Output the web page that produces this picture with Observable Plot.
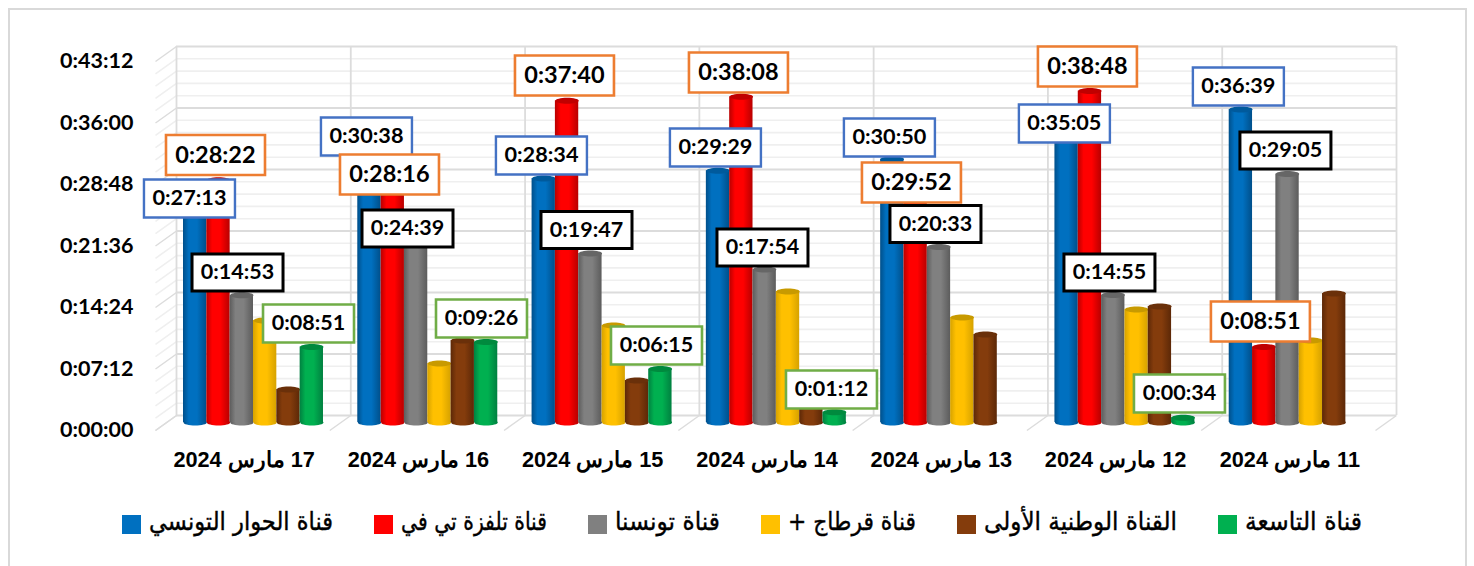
<!DOCTYPE html>
<html lang="ar">
<head>
<meta charset="utf-8">
<script src="https://cdn.jsdelivr.net/npm/d3@7"></script>
<script src="https://cdn.jsdelivr.net/npm/@observablehq/plot@0.6"></script>
<style>
html,body{margin:0;padding:0;background:#fff;overflow:hidden;width:1474px;height:566px}
#frame{position:absolute;left:8px;top:8px;width:1455px;height:570px;border:2px solid #d9d9d9;box-sizing:content-box}
#chart{position:absolute;left:0;top:0}
#chart svg{background:transparent;font-family:Lato,"DejaVu Sans",sans-serif}
#chart g[aria-label="x-axis tick label"] text{direction:rtl}
#legend{position:absolute;left:122px;top:515px;display:flex;gap:41px;align-items:center;font-family:"DejaVu Sans",serif;font-size:22px;color:#000;white-space:nowrap;-webkit-text-stroke:.35px #000}
#legend .it{display:flex;align-items:center;gap:8px}
#legend i{display:inline-block;width:19px;height:19px;flex:none}
#legend .tx{display:block;flex:none;height:19px;position:relative}
#legend .tx span{position:absolute;left:0;top:-6px;display:inline-block;transform-origin:left center}
</style>
</head>
<body>
<div id="frame"></div>
<div id="chart"></div>
<div id="legend"></div>
<script>
const dates = ["17 مارس 2024","16 مارس 2024","15 مارس 2024","14 مارس 2024","13 مارس 2024","12 مارس 2024","11 مارس 2024"];
const channels = ["قناة الحوار التونسي","قناة تلفزة تي في","قناة تونسنا","قناة قرطاج +","القناة الوطنية الأولى","قناة التاسعة"];
const colors = ["#0070C0","#FF0000","#808080","#FFC000","#843C0C","#00B050"];
const edges  = ["#004f8a","#b80000","#5c5c5c","#d6a200","#5c2807","#008040"];
const tops   = ["#005a9c","#c00000","#666666","#c89a00","#6a300a","#008a3e"];
const legendTextWidths = [184,146,105,128,193,117];

const blue   = ["0:27:13","0:30:38","0:28:34","0:29:29","0:30:50","0:35:05","0:36:39"];
const red    = ["0:28:22","0:28:16","0:37:40","0:38:08","0:29:52","0:38:48","0:08:51"];
const gray   = ["0:14:53","0:24:39","0:19:47","0:17:54","0:20:33","0:14:55","0:29:05"];
const yellow = ["0:11:56","0:06:54","0:11:21","0:15:20","0:12:17","0:13:14","0:09:36"];
const brown  = ["0:03:52","0:09:36","0:04:55","0:03:00","0:10:18","0:13:35","0:15:06"];
const green  = ["0:08:51","0:09:26","0:06:15","0:01:12",null,"0:00:34",null];
const series = [blue,red,gray,yellow,brown,green];

const yTicks = [0,432,864,1296,1728,2160,2592];
const minorStep = 86.4;

// which series carry a value label, and the label style of each
const labelled = [
  {c:0, stroke:"#4472C4", sw:2.4, w:91, h:38, fs:21.7},
  {c:1, stroke:"#ED7D31", sw:2.6, w:99, h:40, fs:23.5},
  {c:2, stroke:"#000000", sw:3,   w:91, h:37, fs:21.5},
  {c:5, stroke:"#70AD47", sw:2.6, w:91, h:38, fs:21.5}
];
// hand-placed label offsets from the top of each bar (pixels), per date
const labelDx = {
  0:[-5.7,-3,-2.3,-2.6,-2.9,-2.2,-2.5],
  1:[-3,-3.3,-2.6,-2.9,-4.2,-2.5,-3.8],
  2:[-4.3,-8.6,-3.9,-2.2,-3.5,-3.8,-2.1],
  5:[-3.3,-4.6,-3.9,-3.2,0,-3.8,0]
};
const labelDy = {
  0:[8.5,-24.3,-23,-23.2,-21.6,0.7,-23],
  1:[-25.2,-6.6,-25.3,-24.3,15.1,-24.6,-25.4],
  2:[-22.9,16.5,-23.5,-22.1,-23,-22.6,-23.6],
  5:[-23.4,-23.4,-23.6,-22.8,0,-24.2,0]
};

const secs = s => { const [h,m,x] = s.split(":").map(Number); return h*3600+m*60+x; };
const fmt = t => `${Math.floor(t/3600)}:${String(Math.floor(t%3600/60)).padStart(2,"0")}:${String(t%60).padStart(2,"0")}`;

const W = 1474, H = 505, ML = 155, MR = 99, MT = 61, MB = H-430;
const groupPx = (W-ML-MR)/dates.length;
const pxX = 1/groupPx, pxY = 2592/(H-MT-MB);
const barW = 23.33*pxX, barStart = 28*pxX;
const depthX = 21*pxX, depthY = 15*pxY;

const rows = series.flatMap((vals,c)=>vals.map((v,g)=>v==null?null:{g,c,label:v,v:secs(v),x1:g+barStart+c*barW,x2:g+barStart+(c+1)*barW}).filter(Boolean));

const boxSymbol = (w,h)=>({draw(p){p.moveTo(-w/2,-h/2);p.lineTo(w/2,-h/2);p.lineTo(w/2,h/2);p.lineTo(-w/2,h/2);p.closePath();}});
const ellipse = (rx,ry)=>({draw(p){const k=0.5523;p.moveTo(-rx,0);p.bezierCurveTo(-rx,-ry*k,-rx*k,-ry,0,-ry);p.bezierCurveTo(rx*k,-ry,rx,-ry*k,rx,0);p.bezierCurveTo(rx,ry*k,rx*k,ry,0,ry);p.bezierCurveTo(-rx*k,ry,-rx,ry*k,-rx,0);p.closePath();}});

const defs = () => {
  const d = d3.create("svg:defs");
  colors.forEach((col,i)=>{
    const g = d.append("linearGradient").attr("id","cyl"+i).attr("x1",0).attr("x2",1).attr("y1",0).attr("y2",0);
    [[0,edges[i]],[0.25,col],[0.6,col],[1,edges[i]]].forEach(([o,c])=>g.append("stop").attr("offset",o).attr("stop-color",c));
  });
  return d.node();
};

const minor = d3.range(0,2592+1,minorStep).filter(t=>t%432!==0);
const groups = d3.range(dates.length+1);
const wall = {dx:21, dy:-15};
const barDy = -8;

const barMarks = series.flatMap((_,c)=>{
  const d = rows.filter(r=>r.c===c);
  const cx = r=>(r.x1+r.x2)/2;
  return [
    Plot.dot(d,{x:cx,y:0,dy:barDy,symbol:ellipse(11.7,3),fill:`url(#cyl${c})`}),
    Plot.rect(d,{x1:"x1",x2:"x2",y1:0,y2:"v",dy:barDy,fill:`url(#cyl${c})`}),
    Plot.dot(d,{x:cx,y:"v",dy:barDy,symbol:ellipse(11.7,3),fill:tops[c]})
  ];
});

const labelMarks = labelled.flatMap(({c,stroke,sw,w,h,fs})=>{
  const d = rows.filter(r=>r.c===c);
  const lx = r=>(r.x1+r.x2)/2+labelDx[c][r.g]*pxX;
  const ly = r=>r.v-labelDy[c][r.g]*pxY;
  return [
    Plot.dot(d,{x:lx,y:ly,dy:barDy,symbol:boxSymbol(w,h),fill:"#fff",stroke,strokeWidth:sw}),
    Plot.text(d,{x:lx,y:ly,dy:barDy,text:"label",fontSize:fs,fontWeight:700,fill:"#000",fontFamily:"Lato"})
  ];
});

const chart = Plot.plot({
  width:W,height:H,marginLeft:ML,marginRight:MR,marginTop:MT,marginBottom:MB,
  x:{domain:[0,dates.length],axis:null},
  y:{domain:[0,2592],axis:null},
  marks:[
    defs,
    Plot.ruleY(minor,{x1:0,x2:dates.length,...wall,stroke:"#efefef",strokeWidth:1.6}),
    Plot.link(minor,{x1:0,y1:d=>d,x2:depthX,y2:d=>d+depthY,stroke:"#efefef",strokeWidth:1.6}),
    Plot.ruleY(yTicks,{x1:0,x2:dates.length,...wall,stroke:"#dcdcdc",strokeWidth:1.8}),
    Plot.link(yTicks,{x1:0,y1:d=>d,x2:depthX,y2:d=>d+depthY,stroke:"#dcdcdc",strokeWidth:1.5}),
    Plot.ruleX(groups,{y1:0,y2:2592,...wall,stroke:"#dcdcdc",strokeWidth:1.8}),
    Plot.link(groups,{x1:d=>d,y1:0,x2:d=>d+depthX,y2:depthY,stroke:"#dcdcdc",strokeWidth:1.5}),
    ...barMarks,
    ...labelMarks,
    Plot.axisY(yTicks,{anchor:"left",tickSize:0,tickPadding:22,tickFormat:fmt,fontSize:21.5,fontWeight:700,fill:"#000",fontFamily:"Lato",label:null}),
    Plot.axisX(d3.range(dates.length).map(g=>g+0.5),{anchor:"bottom",tickSize:0,tickPadding:21,dx:1.5,tickFormat:t=>dates[t-0.5],fontSize:21.7,fontWeight:700,fill:"#000",fontFamily:"Liberation Sans",label:null})
  ]
});
document.getElementById("chart").appendChild(chart);

const legend = d3.select("#legend");
channels.forEach((name,i)=>{
  const it = legend.append("div").attr("class","it");
  it.append("i").style("background",colors[i]);
  const tx = it.append("div").attr("class","tx").style("width",legendTextWidths[i]+"px");
  const s = tx.append("span").attr("dir","rtl").text(name);
  const natural = s.node().getBoundingClientRect().width;
  s.style("transform",`scale(${legendTextWidths[i]/natural},1.15)`);
});
</script>
</body>
</html>
